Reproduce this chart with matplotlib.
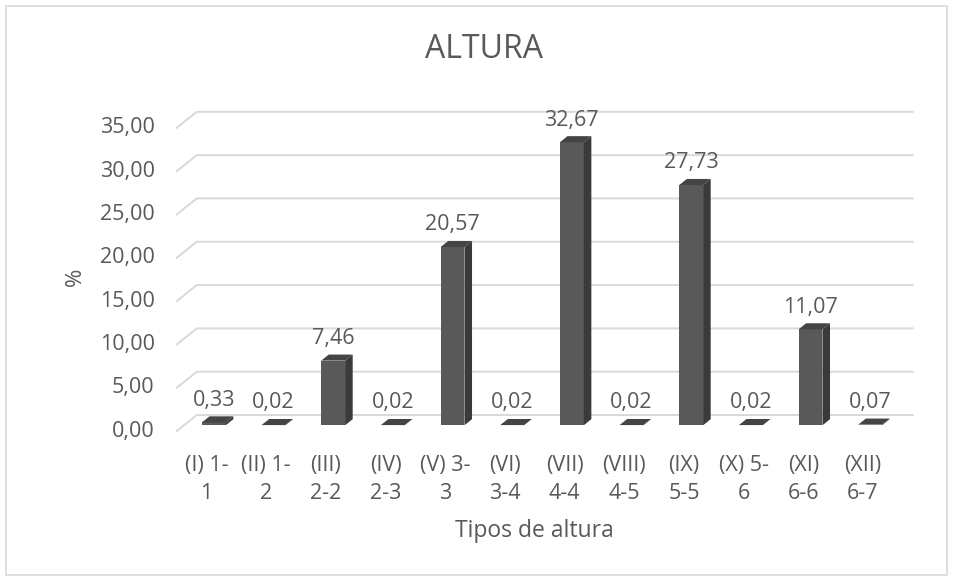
import matplotlib.pyplot as plt
from matplotlib.patches import Polygon, Rectangle
import numpy as np

# Data
categories = ['(I) 1-\n1', '(II) 1-\n2', '(III)\n2-2', '(IV)\n2-3', '(V) 3-\n3', '(VI)\n3-4',
              '(VII)\n4-4', '(VIII)\n4-5', '(IX)\n5-5', '(X) 5-\n6', '(XI)\n6-6', '(XII)\n6-7']
values = [0.33, 0.02, 7.46, 0.02, 20.57, 0.02, 32.67, 0.02, 27.73, 0.02, 11.07, 0.07]
value_labels = ['0,33', '0,02', '7,46', '0,02', '20,57', '0,02', '32,67', '0,02', '27,73', '0,02', '11,07', '0,07']
yticks = [0, 5, 10, 15, 20, 25, 30, 35]
ytick_labels = ['0,00', '5,00', '10,00', '15,00', '20,00', '25,00', '30,00', '35,00']

plt.rcParams['font.family'] = ['Open Sans', 'DejaVu Sans']
text_color = '#595959'
grid_color = '#d9d9d9'

# oblique 3D look: depth offset of the back wall, in data units
DX = 0.335
DY = 1.85
f0 = 0.36     # where the bars start in depth
fd = 0.38     # bar depth
w = 0.40      # bar width

fig = plt.figure(figsize=(9.54, 5.81), dpi=100)
ax = fig.add_axes([0.178, 0.234, 0.791, 0.594])
ax.set_xlim(-0.617, 12.03)
ax.set_ylim(-1.617, 38.22)
ax.axis('off')

# chart border
fig.patches.append(Rectangle((6 / 954, 6 / 581), 941 / 954, 569 / 581, transform=fig.transFigure,
                             fill=False, edgecolor=grid_color, linewidth=1.2))

n = len(categories)
# gridlines with slanted part on the left
for v, lab in zip(yticks, ytick_labels):
    ax.plot([-0.5, -0.5 + DX, n - 0.5 + DX], [v, v + DY, v + DY], color=grid_color, lw=1.4, zorder=1)
    ax.text(-0.5 - 0.37, v, lab, ha='right', va='center', fontsize=15.5, color=text_color)

x = np.arange(n)
xf = x + f0 * DX
y0 = f0 * DY
ax.bar(xf, values, width=w, bottom=y0, color='#595959', zorder=3)
for xi, v, lab in zip(xf, values, value_labels):
    xl, xr = xi - w / 2, xi + w / 2
    top = y0 + v
    side = Polygon([(xr, y0), (xr + fd * DX, y0 + fd * DY), (xr + fd * DX, top + fd * DY), (xr, top)],
                   closed=True, facecolor='#3a3a3a', edgecolor='none', zorder=3)
    cap = Polygon([(xl, top), (xr, top), (xr + fd * DX, top + fd * DY), (xl + fd * DX, top + fd * DY)],
                  closed=True, facecolor='#444444', edgecolor='none', zorder=4)
    ax.add_patch(side)
    ax.add_patch(cap)
    ax.annotate(lab, (xi, top + fd * DY), xytext=(0, 4), textcoords='offset points',
                ha='center', va='bottom', fontsize=15.5, color=text_color)

# category labels
for xi, lab in zip(x, categories):
    ax.text(xi, -2.8, lab, ha='center', va='top', fontsize=15.5, color=text_color, linespacing=1.45)

fig.text(484 / 954, 1 - 50 / 581, 'ALTURA', ha='center', va='center', fontsize=23, color=text_color)
fig.text(534 / 954, 1 - 531 / 581, 'Tipos de altura', ha='center', va='center', fontsize=16.5, color=text_color)
fig.text(75 / 954, 1 - 277 / 581, '%', ha='center', va='center', rotation=90, fontsize=16, color=text_color)

plt.savefig('out.png', dpi=100)
